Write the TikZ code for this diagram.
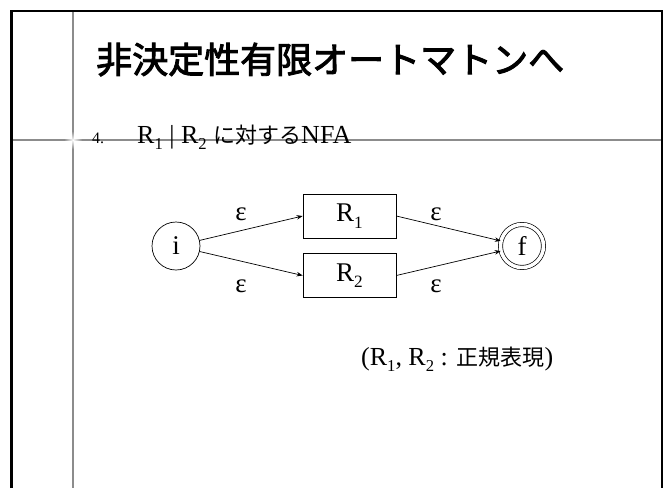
\documentclass[tikz,border=0pt]{standalone}
\usepackage{fontspec}
\setmainfont{Liberation Serif}
\newfontfamily\jp{Noto Sans CJK JP}
\newfontfamily\jptitle{Noto Sans CJK JP}[FakeBold=2.6]
\usetikzlibrary{arrows.meta,fadings}
\definecolor{guidegray}{RGB}{140,140,140}
\newcommand\lowsub[1]{\raisebox{-0.24em}{\scalebox{0.64}{#1}}}
\tikzfading[name=glowfade, inner color=transparent!0, outer color=transparent!100]
\begin{document}
\begin{tikzpicture}[x=1pt,y=-1pt,
  frame/.style={line width=2.4pt,black},
  guide/.style={line width=1.9pt,color=guidegray},
  state/.style={circle,draw,line width=0.7pt,minimum size=48pt,inner sep=0pt,font=\fontsize{27}{27}\selectfont},
  accept/.style={state,minimum size=43pt,double,double distance=3.5pt},
  regbox/.style={draw,line width=0.7pt,minimum width=93pt,minimum height=44pt,inner sep=0pt,font=\fontsize{27}{27}\selectfont},
  arr/.style={-{Stealth[length=6pt,width=4.5pt]},line width=0.7pt},
  eps/.style={font=\fontsize{27}{27}\selectfont,inner sep=0pt},
  txt/.style={anchor=base west,inner sep=0pt}
]
\useasboundingbox[fill=white] (0,0) rectangle (667,488);
% slide frame and guides
\draw[guide] (73,11) -- (73,488);
\draw[guide,line width=1.4pt] (11.5,140) -- (662,140);
\fill[white,path fading=glowfade] (73,140) circle (9);
\draw[frame] (11.5,488) -- (11.5,11) -- (662,11) -- (662,488);
% title
\node[txt] (title) at (96,73) {\jptitle\fontsize{36}{36}\selectfont 非決定性有限オートマトンへ};
% item
\node[txt] (num) at (92,143) {\fontsize{16}{16}\selectfont 4.};
\node[txt] (item) at (137,143) {\fontsize{26}{26}\selectfont R\lowsub{1} | R\lowsub{2} {\jp\fontsize{22}{22}\selectfont に対する}NFA};
% automaton
\node[state] (i) at (176,246) {i};
\node[accept] (f) at (522,246) {f};
\node[regbox] (r1) at (349.5,216) {R\lowsub{1}};
\node[regbox] (r2) at (349.5,275.5) {R\lowsub{2}};
\draw[arr] (i) -- (r1.west);
\draw[arr] (i) -- (r2.west);
\draw[arr] (r1.east) -- (f);
\draw[arr] (r2.east) -- (f);
\node[eps] (e1) at (241,214) {ε};
\node[eps] (e2) at (241,286) {ε};
\node[eps] (e3) at (436,214) {ε};
\node[eps] (e4) at (436,286) {ε};
% note
\node[txt] (note) at (361,365) {\fontsize{26}{26}\selectfont (R\lowsub{1}, R\lowsub{2} : {\jp\fontsize{22}{22}\selectfont 正規表現})};
\end{tikzpicture}
\end{document}
